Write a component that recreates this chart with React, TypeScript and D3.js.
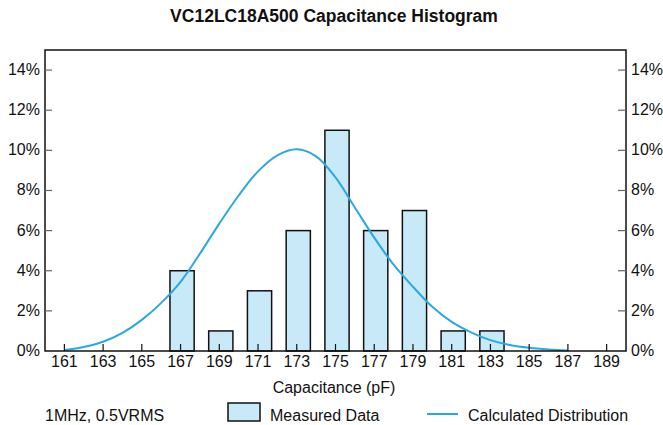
import React from 'react';
import * as d3 from 'd3';

// measured histogram (percent of parts per bin)
const binCenters = [167, 169, 171, 173, 175, 177, 179, 181, 183];
const measured = [4, 1, 3, 6, 11, 6, 7, 1, 1];

// calculated distribution
const curveX = [161, 162, 163, 164, 165, 166, 167, 168, 169, 170, 171, 172, 173, 174,
  175, 176, 177, 178, 179, 180, 181, 182, 183, 184, 185, 186, 187];
const curveY = [0.05, 0.2, 0.46, 0.9, 1.55, 2.4, 3.45, 4.85, 6.35, 7.75, 8.95, 9.75, 10.05, 9.7,
  8.65, 7.15, 5.65, 4.3, 3.2, 2.2, 1.45, 0.93, 0.54, 0.3, 0.16, 0.08, 0.03];

const xTicks = [161, 163, 165, 167, 169, 171, 173, 175, 177, 179, 181, 183, 185, 187, 189];
const yTicks = [0, 2, 4, 6, 8, 10, 12, 14];

const title = 'VC12LC18A500 Capacitance Histogram';
const xLabel = 'Capacitance (pF)';
const note = '1MHz, 0.5VRMS';
const legendBars = 'Measured Data';
const legendLine = 'Calculated Distribution';

const W = 663;
const H = 425;
const m = { left: 45, right: 37, top: 50, bottom: 74 };
const font = '"Liberation Sans", Arial, Helvetica, sans-serif';
const barFill = '#c8e9f8';
const lineColor = '#29a9e0';

const App = () => {
  const x = d3.scaleLinear().domain([160, 190]).range([m.left, W - m.right]);
  const y = d3.scaleLinear().domain([0, 15]).range([H - m.bottom, m.top]);
  const barW = x(161.25) - x(160);
  const barShift = 1.5; // bars sit a touch right of the ticks in the original

  const line = d3.line<number>()
    .x((d, i) => x(curveX[i]))
    .y(d => y(d))
    .curve(d3.curveCatmullRom);

  const x0 = x.range()[0];
  const x1 = x.range()[1];
  const y0 = y(0);
  const yTop = y.range()[1];

  return (
    <svg width={W} height={H} style={{ position: 'absolute', left: 0, top: 0 }} fontFamily={font}>
      <text x={334} y={22} textAnchor="middle" fontSize={17.5} fontWeight="bold" fill="#111">{title}</text>

      {/* bars */}
      {binCenters.map((c, i) => (
        <rect key={c} x={x(c) - barW / 2 + barShift} y={y(measured[i])} width={barW} height={y0 - y(measured[i])}
          fill={barFill} stroke="#111" strokeWidth={1.5} />
      ))}

      {/* curve */}
      <path d={line(curveY) || ''} fill="none" stroke={lineColor} strokeWidth={2} />

      {/* frame */}
      <rect x={x0} y={yTop} width={x1 - x0} height={y0 - yTop} fill="none" stroke="#111" strokeWidth={1.5} />

      {/* x ticks */}
      {xTicks.map(t => (
        <g key={t}>
          <line x1={x(t)} x2={x(t)} y1={y0} y2={y0 - 7} stroke="#111" strokeWidth={1.2} />
          <text x={x(t)} y={367} textAnchor="middle" fontSize={16} fill="#111">{t}</text>
        </g>
      ))}

      {/* y ticks, both sides */}
      {yTicks.map(t => (
        <g key={t}>
          {t > 0 && <line x1={x0} x2={x0 + 7} y1={y(t)} y2={y(t)} stroke="#666" strokeWidth={1.2} />}
          {t > 0 && <line x1={x1 - 8} x2={x1} y1={y(t)} y2={y(t)} stroke="#666" strokeWidth={1.2} />}
          <text x={40} y={y(t) + 5} textAnchor="end" fontSize={16} fill="#111">{t}%</text>
          <text x={631} y={y(t) + 5} textAnchor="start" fontSize={16} fill="#111">{t}%</text>
        </g>
      ))}

      <text x={334} y={393} textAnchor="middle" fontSize={16} fill="#111">{xLabel}</text>

      {/* legend row */}
      <text x={45} y={421} fontSize={16} fill="#111">{note}</text>
      <rect x={228} y={403} width={32} height={18} fill={barFill} stroke="#111" strokeWidth={1.5} />
      <text x={270} y={421} fontSize={16} fill="#111">{legendBars}</text>
      <line x1={427} x2={458} y1={414} y2={414} stroke={lineColor} strokeWidth={2} />
      <text x={468} y={421} fontSize={16} fill="#111">{legendLine}</text>
    </svg>
  );
};

export default App;
